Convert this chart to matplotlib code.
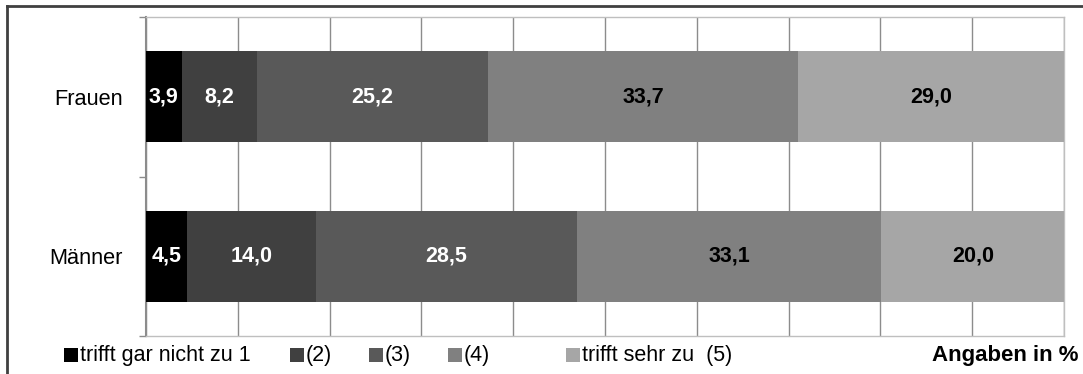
import numpy as np
import matplotlib
matplotlib.use("Agg")
import matplotlib.pyplot as plt
from matplotlib.patches import Rectangle
from matplotlib.lines import Line2D

plt.rcParams['font.family'] = ['Liberation Sans', 'DejaVu Sans']

# data
groups = ['Frauen', 'Männer']
frauen = [3.9, 8.2, 25.2, 33.7, 29.0]
maenner = [4.5, 14.0, 28.5, 33.1, 20.0]
series_labels = ['trifft gar nicht zu 1', '(2)', '(3)', '(4)', 'trifft sehr zu  (5)']
colors = ['#000000', '#404040', '#595959', '#808080', '#a6a6a6']
text_colors = ['white', 'white', 'white', 'black', 'black']

W, H = 1083, 374
fig = plt.figure(figsize=(W / 100, H / 100), dpi=100)
ax = fig.add_axes([146 / W, 1 - 336 / H, (1064 - 146) / W, (336 - 17) / H])

values = np.array([frauen, maenner])
y = np.arange(len(groups))
left = np.zeros(len(groups))
for i in range(len(series_labels)):
    bars = ax.barh(y, values[:, i], left=left, height=0.57, color=colors[i],
                   edgecolor='none', zorder=3)
    for b, v in zip(bars, values[:, i]):
        ax.text(b.get_x() + b.get_width() / 2, b.get_y() + b.get_height() / 2,
                f'{v:.1f}'.replace('.', ','), ha='center', va='center',
                color=text_colors[i], fontsize=15.5, fontweight='bold', zorder=4)
    left += values[:, i]

ax.set_xlim(0, 100)
ax.set_ylim(1.5, -0.5)
ax.set_xticks(np.arange(0, 101, 10))
ax.tick_params(axis='x', length=0, labelbottom=False)
ax.grid(axis='x', color='#8c8c8c', linewidth=1.0, zorder=0)

ax.set_yticks([-0.5, 0.5, 1.5])
ax.set_yticklabels([])
ax.set_yticks(y, minor=True)
ax.set_yticklabels(groups, minor=True, fontsize=15.7)
ax.tick_params(axis='y', which='minor', length=0, pad=17)
ax.tick_params(axis='y', which='major', length=5, width=1.0, color='#8c8c8c', direction='out')

for s in ['top', 'right', 'bottom']:
    ax.spines[s].set_color('#bfbfbf')
    ax.spines[s].set_linewidth(1.0)
ax.spines['left'].set_color('#8c8c8c')
ax.spines['left'].set_linewidth(1.5)

# outer frame
fig.add_artist(Line2D([7 / W, 7 / W], [0, 1 - 6 / H], transform=fig.transFigure,
                      color='#404040', linewidth=2))
fig.add_artist(Line2D([7 / W, 1], [1 - 6 / H, 1 - 6 / H], transform=fig.transFigure,
                      color='#404040', linewidth=2))

# legend
leg_x = [64, 290, 369, 448, 566]
for x, lab, c in zip(leg_x, series_labels, colors):
    fig.add_artist(Rectangle((x / W, 1 - 362 / H), 14 / W, 14 / H,
                             transform=fig.transFigure, facecolor=c, edgecolor='none'))
    fig.text((x + 16) / W, 1 - 356 / H, lab, fontsize=15.5, va='center', ha='left')

fig.text(1079 / W, 1 - 356 / H, 'Angaben in %', fontsize=16, fontweight='bold',
         va='center', ha='right')

fig.savefig('out.png', dpi=100)
